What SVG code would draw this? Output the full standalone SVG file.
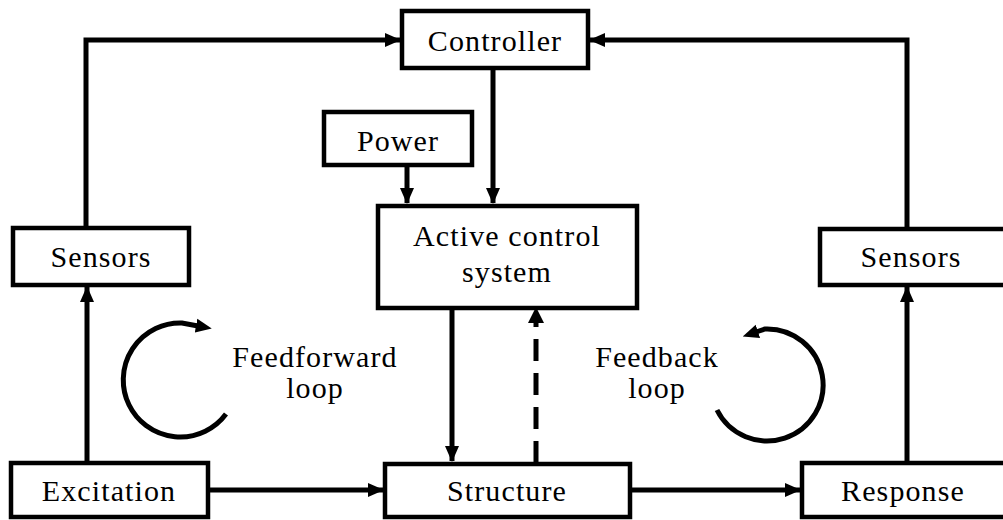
<svg xmlns="http://www.w3.org/2000/svg" width="1003" height="520" viewBox="0 0 1003 520">
<style>
.box{fill:#fff;stroke:#000;stroke-width:4.5}
.ln{fill:none;stroke:#000;stroke-width:5}
.lbl{font-family:"Liberation Serif","Times New Roman",serif;font-size:30px;letter-spacing:1.1px;fill:#000;text-anchor:middle}
</style>
<defs>
<marker id="arr" markerUnits="userSpaceOnUse" markerWidth="16" markerHeight="16" refX="15" refY="7" orient="auto" viewBox="0 0 16 14">
<path d="M0,0 L16,7 L0,14 z" fill="#000"/>
</marker>
<marker id="arr2" markerUnits="userSpaceOnUse" markerWidth="16" markerHeight="16" refX="2" refY="7" orient="auto" viewBox="0 0 16 14">
<path d="M0,0 L16,7 L0,14 z" fill="#000"/>
</marker>
</defs>
<rect width="1003" height="520" fill="#fff"/>
<g id="connectors">
<path class="ln" d="M86 227 V40 H400" marker-end="url(#arr)"/>
<path class="ln" d="M907 228 V40 H590" marker-end="url(#arr)"/>
<path class="ln" d="M493 68 V203" marker-end="url(#arr)"/>
<path class="ln" d="M407 165 V203" marker-end="url(#arr)"/>
<path class="ln" d="M452 308 V461" marker-end="url(#arr)"/>
<path class="ln" d="M536 463 V322" stroke-dasharray="22 12"/>
<path d="M528 323 L536 307 L544 323 z" fill="#000"/>
<path class="ln" d="M87 463 V287" marker-end="url(#arr)"/>
<path class="ln" d="M907 462 V287" marker-end="url(#arr)"/>
<path class="ln" d="M208 490 H383" marker-end="url(#arr)"/>
<path class="ln" d="M630 490 H800" marker-end="url(#arr)"/>
<path class="ln" d="M226 414 A57 57 0 1 1 182 323 L198 326" marker-end="url(#arr2)"/>
<path class="ln" d="M717 410 A56 56 0 1 0 765 329 L756 332" marker-end="url(#arr2)"/>
</g>
<g id="controller"><rect class="box" x="402" y="11" width="186" height="57"/><text class="lbl" x="495" y="51">Controller</text></g>
<g id="power"><rect class="box" x="324" y="112" width="148" height="53"/><text class="lbl" x="398" y="151">Power</text></g>
<g id="active"><rect class="box" x="378" y="206" width="259" height="102"/><text class="lbl"><tspan x="507" y="246">Active control</tspan><tspan x="507" y="282">system</tspan></text></g>
<g id="sensors-left"><rect class="box" x="13" y="228" width="176" height="57"/><text class="lbl" x="101" y="267">Sensors</text></g>
<g id="sensors-right"><rect class="box" x="820" y="229" width="190" height="56"/><text class="lbl" x="911" y="267">Sensors</text></g>
<g id="excitation"><rect class="box" x="11" y="463" width="197" height="54"/><text class="lbl" x="109" y="501">Excitation</text></g>
<g id="structure"><rect class="box" x="385" y="464" width="245" height="53"/><text class="lbl" x="507" y="501">Structure</text></g>
<g id="response"><rect class="box" x="802" y="463" width="210" height="54"/><text class="lbl" x="903" y="501">Response</text></g>
<g id="feedforward"><text class="lbl"><tspan x="315" y="367">Feedforward</tspan><tspan x="315" y="398">loop</tspan></text></g>
<g id="feedback"><text class="lbl"><tspan x="657" y="367">Feedback</tspan><tspan x="657" y="398">loop</tspan></text></g>
</svg>
